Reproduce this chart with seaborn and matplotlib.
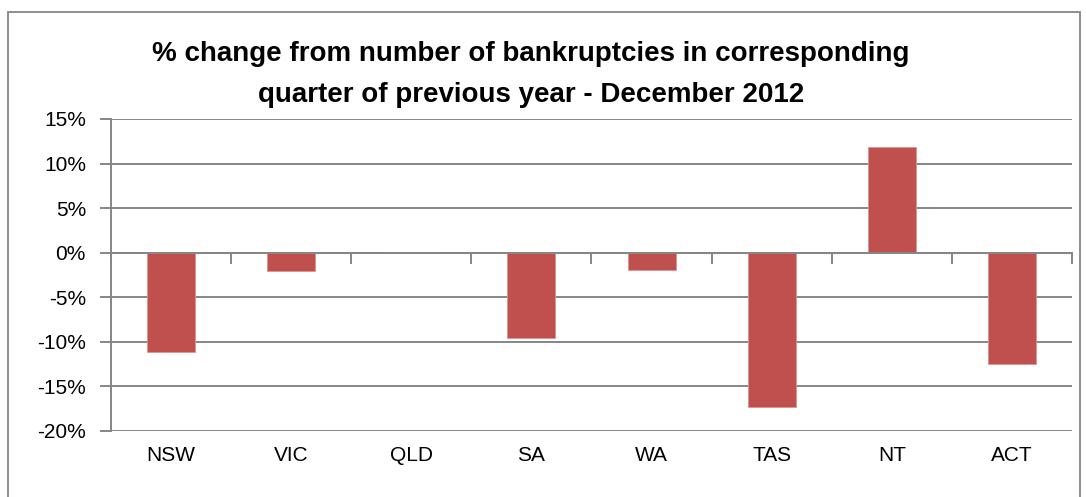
import numpy as np
import matplotlib
matplotlib.use('Agg')
import matplotlib.pyplot as plt
import seaborn as sns
from matplotlib.ticker import FuncFormatter, FixedLocator
from matplotlib.patches import Rectangle

states = ['NSW', 'VIC', 'QLD', 'SA', 'WA', 'TAS', 'NT', 'ACT']
pct_change = [-11.1, -2.0, 0.1, -9.6, -1.9, -17.3, 11.9, -12.5]
y_ticks = [-20, -15, -10, -5, 0, 5, 10, 15]
title = '% change from number of bankruptcies in corresponding\nquarter of previous year - December 2012'

sns.set_style('white')
plt.rcParams['font.family'] = ['Liberation Sans', 'DejaVu Sans']
plt.rcParams['text.color'] = 'black'
plt.rcParams['xtick.color'] = 'black'
plt.rcParams['ytick.color'] = 'black'

grey = '#868686'
fig = plt.figure(figsize=(10.86, 4.97), dpi=100)
ax = fig.add_axes([0.1022, 0.1328, 0.8849, 0.6278])

sns.barplot(x=states, y=pct_change, color='#C0504D', width=0.4, saturation=1,
            edgecolor='#D99694', linewidth=0.6, ax=ax, zorder=3)

ax.set_ylim(-20, 15)
ax.set_xlim(-0.5, len(states) - 0.5)
ax.yaxis.set_major_locator(FixedLocator(y_ticks))
ax.yaxis.set_major_formatter(FuncFormatter(lambda v, p: f'{v:.0f}%'))
ax.grid(axis='y', color=grey, linewidth=1.4, zorder=0)
ax.set_axisbelow(True)

# category axis crosses at zero, labels sit at the bottom
for s in ['top', 'right']:
    ax.spines[s].set_visible(False)
ax.spines['left'].set_color(grey)
ax.spines['left'].set_linewidth(1.4)
ax.spines['bottom'].set_position(('data', 0))
ax.spines['bottom'].set_color(grey)
ax.spines['bottom'].set_linewidth(1.4)
ax.spines['bottom'].set_zorder(4)
ax.set_xticks(np.arange(len(states) + 1) - 0.5, minor=True)
ax.tick_params(axis='x', which='minor', bottom=True, length=8, width=1.4,
               color=grey, direction='out')
ax.tick_params(axis='x', which='major', bottom=True, length=0, pad=139, labelsize=15)
ax.tick_params(axis='y', left=True, length=8, width=1.4, color=grey, direction='out',
               labelsize=15, pad=10)
ax.set_xlabel('')
ax.set_ylabel('')

fig.text(0.489, 0.850, title, ha='center', va='center', fontsize=20,
         fontweight='bold', linespacing=1.75)

fig.patches.append(Rectangle((0.0074, -0.1), 0.987, 1.076, transform=fig.transFigure,
                             fill=False, edgecolor=grey, linewidth=1.3))

fig.savefig('out.png', dpi=100)
